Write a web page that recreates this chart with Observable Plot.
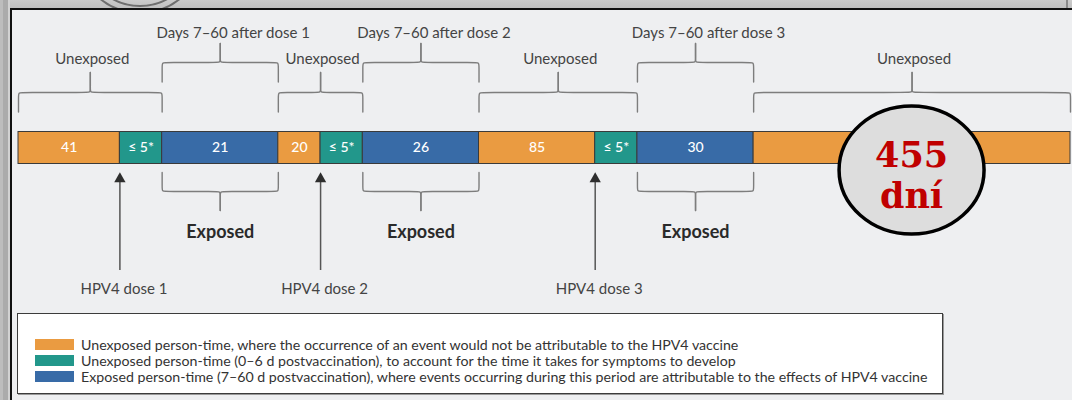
<!DOCTYPE html>
<html><head><meta charset="utf-8">
<script src="https://cdn.jsdelivr.net/npm/d3@7"></script>
<script src="https://cdn.jsdelivr.net/npm/@observablehq/plot@0.6"></script>
<style>
html,body{margin:0;padding:0;}
body{width:1072px;height:400px;overflow:hidden;position:relative;background:#c4c4c4;font-family:Lato,sans-serif;}
#topband{position:absolute;left:0;top:0;width:1072px;height:9px;background:linear-gradient(#cbcbcb,#bfbfbf);overflow:hidden;}
#leftband{position:absolute;left:0;top:0;width:10px;height:400px;background:linear-gradient(90deg,#bdbdbd 0,#bdbdbd 3px,#ababab 3px,#ababab 8px,#d2d2d2 8px);}
#panel{position:absolute;left:10px;top:8px;right:0;bottom:0;background:#eeeff1;border-left:2px solid #111;border-top:2px solid #111;}
.ring{position:absolute;border:2px solid #6e6e6e;border-radius:50%;box-sizing:border-box;}
#tick{position:absolute;left:1066px;top:0;width:2px;height:9px;background:#8a8a8a;}
#chart{position:absolute;left:0;top:0;}
#legend{position:absolute;left:17px;top:313px;width:924px;height:79px;background:#fff;border:1px solid #3c3c3c;box-shadow:1px 1px 0 #9a9a9a;}
.row{position:absolute;left:17px;height:16px;display:flex;align-items:center;font-size:14.2px;color:#333;white-space:nowrap;}
.sw{width:39px;height:11px;margin-right:7px;flex:none;}
</style></head>
<body>
<div id="topband">
  <div class="ring" style="left:76px;top:-114px;width:128px;height:128px;"></div>
  <div class="ring" style="left:83px;top:-107px;width:114px;height:114px;"></div>
  <div id="tick"></div>
</div>
<div id="leftband"></div>
<div id="panel"></div>
<div id="chart"></div>
<div id="legend"></div>
<script>
// ---------- data ----------
const segmentLabels = ["41", "≤ 5*", "21", "20", "≤ 5*", "26", "85", "≤ 5*", "30", ""];
const segmentTypes  = ["unexposed", "buffer", "exposed", "unexposed", "buffer", "exposed", "unexposed", "buffer", "exposed", "unexposed"];
// schematic (not-to-scale) lengths of the segments on the timeline
const segmentSpans  = [2.4, 1, 2.75, 1, 1, 2.75, 2.75, 1, 2.75, 7.5];

const typeNames  = ["unexposed", "buffer", "exposed"];
const typeColors = ["#EA9B41", "#22978B", "#386BA7"];

const unexposedGroups = [[0, 1], [3, 4], [6, 7], [9, 9]];
const unexposedLabel = "Unexposed";
const exposedSegments = [2, 5, 8];
const exposedTopLabels = ["Days 7–60 after dose 1", "Days 7–60 after dose 2", "Days 7–60 after dose 3"];
const exposedLabel = "Exposed";
const doseSegments = [1, 4, 7];
const doseLabels = ["HPV4 dose 1", "HPV4 dose 2", "HPV4 dose 3"];

const legendLabels = [
  "Unexposed person-time, where the occurrence of an event would not be attributable to the HPV4 vaccine",
  "Unexposed person-time (0–6 d postvaccination), to account for the time it takes for symptoms to develop",
  "Exposed person-time (7–60 d postvaccination), where events occurring during this period are attributable to the effects of HPV4 vaccine"
];
const calloutLines = ["455", "dní"];

// ---------- layout ----------
const W = 1072, H = 305;
const L = {
  barTop: 131.5, barBottom: 163.5,
  t1Line: 92, t1Leg: 19.5, t1Tip: 20, t1Text: 63,
  t2Line: 62, t2Leg: 19.5, t2Tip: 19, t2Text: 37,
  bLine: 191, bLeg: 19, bTip: 19, bText: 237,
  arrowTip: 172, arrowTail: 270, doseText: 293
};

const ends = d3.cumsum(segmentSpans);
const starts = Array.from(ends, (e, i) => e - segmentSpans[i]);
const total = ends[ends.length - 1];
const xRange = [18, 1070];
const segments = segmentSpans.map((s, i) => ({
  x1: starts[i], x2: ends[i], xm: (starts[i] + ends[i]) / 2,
  type: segmentTypes[i], label: segmentLabels[i]
}));

const rx = 4 * total / (xRange[1] - xRange[0]); // corner rounding in data units

function brace(x0, x1, yLine, leg, tip, dir, id) {
  const xc = (x0 + x1) / 2, r = 4;
  const left = [[x0, yLine + dir * leg], [x0, yLine + dir * r], [x0, yLine], [x0 + rx, yLine],
                [xc - rx, yLine], [xc, yLine], [xc, yLine - dir * r], [xc, yLine - dir * tip]];
  const right = left.map(([x, y]) => [x0 + x1 - x, y]);
  return [...left.map(([x, y]) => ({x, y, id: id + "L"})), ...right.map(([x, y]) => ({x, y, id: id + "R"}))];
}

const bracePts = [];
const t1Labels = [], t2Labels = [], bLabels = [];
unexposedGroups.forEach(([a, b], i) => {
  bracePts.push(...brace(starts[a], ends[b], L.t1Line, L.t1Leg, L.t1Tip, 1, "u" + i));
  t1Labels.push({x: (starts[a] + ends[b]) / 2, text: unexposedLabel});
});
exposedSegments.forEach((s, i) => {
  bracePts.push(...brace(starts[s], ends[s], L.t2Line, L.t2Leg, L.t2Tip, 1, "d" + i));
  bracePts.push(...brace(starts[s], ends[s], L.bLine, L.bLeg, L.bTip, -1, "e" + i));
  t2Labels.push({x: segments[s].xm, text: exposedTopLabels[i]});
  bLabels.push({x: segments[s].xm, text: exposedLabel});
});
const doses = doseSegments.map((s, i) => ({x: starts[s], text: doseLabels[i]}));

const plot = Plot.plot({
  width: W, height: H,
  marginTop: 0, marginBottom: 0, marginLeft: 0, marginRight: 0,
  x: {domain: [0, total], range: xRange, axis: null},
  y: {domain: [0, H], range: [0, H], axis: null},
  color: {domain: typeNames, range: typeColors},
  style: {background: "transparent", fontFamily: "Lato, sans-serif", overflow: "visible"},
  marks: [
    Plot.rect(segments, {x1: "x1", x2: "x2", y1: L.barTop, y2: L.barBottom, fill: "type", stroke: "#3a3a3a", strokeWidth: 1}),
    Plot.text(segments.filter(d => d.label), {x: "xm", y: (L.barTop + L.barBottom) / 2, text: "label", fill: "white", fontSize: 14, fontWeight: 500}),
    Plot.line(bracePts, {x: "x", y: "y", z: "id", curve: "basis", stroke: "#7d7d7d", strokeWidth: 1.4}),
    Plot.text(t1Labels, {x: "x", y: L.t1Text, text: "text", dx: 2, fontSize: 15, fill: "#444", lineAnchor: "bottom"}),
    Plot.text(t2Labels, {x: "x", y: L.t2Text, text: "text", dx: 13, fontSize: 15, fill: "#444", lineAnchor: "bottom"}),
    Plot.text(bLabels, {x: "x", y: L.bText, text: "text", fontSize: 18, fontWeight: "bold", fill: "#2a2a2a", lineAnchor: "bottom"}),
    Plot.ruleX(doses, {x: "x", y1: L.arrowTip + 8, y2: L.arrowTail, stroke: "#555", strokeWidth: 1.5}),
    Plot.dot(doses, {x: "x", y: L.arrowTip + 6.4, symbol: "triangle", r: 4.2, fill: "#2e2e2e", stroke: "none"}),
    Plot.text(doses, {x: "x", y: L.doseText, text: "text", dx: 4, fontSize: 15, fill: "#444", lineAnchor: "bottom"})
  ]
});
document.getElementById("chart").appendChild(plot);

// callout ellipse over the last segment
const sx = plot.scale("x");
const cx = sx.apply(segments[segments.length - 1].xm);
const g = d3.select(plot).append("g");
g.append("ellipse").attr("cx", cx).attr("cy", 170).attr("rx", 72.5).attr("ry", 64)
  .attr("fill", "#dddddd").attr("stroke", "#000").attr("stroke-width", 3.5);
const ct = g.append("text").attr("text-anchor", "middle")
  .attr("font-family", "'DejaVu Serif', serif").attr("font-weight", "bold").attr("font-size", 35)
  .attr("fill", "#c00000");
calloutLines.forEach((t, i) => {
  ct.append("tspan").attr("x", cx).attr("y", 166.5 + i * 41).text(t);
});

// legend
const leg = document.getElementById("legend");
legendLabels.forEach((t, i) => {
  const row = document.createElement("div");
  row.className = "row";
  row.style.top = (22 + i * 16.3) + "px";
  const sw = document.createElement("div");
  sw.className = "sw";
  sw.style.background = typeColors[i];
  row.appendChild(sw);
  const sp = document.createElement("span");
  sp.textContent = t;
  row.appendChild(sp);
  leg.appendChild(row);
});
</script>
</body></html>
